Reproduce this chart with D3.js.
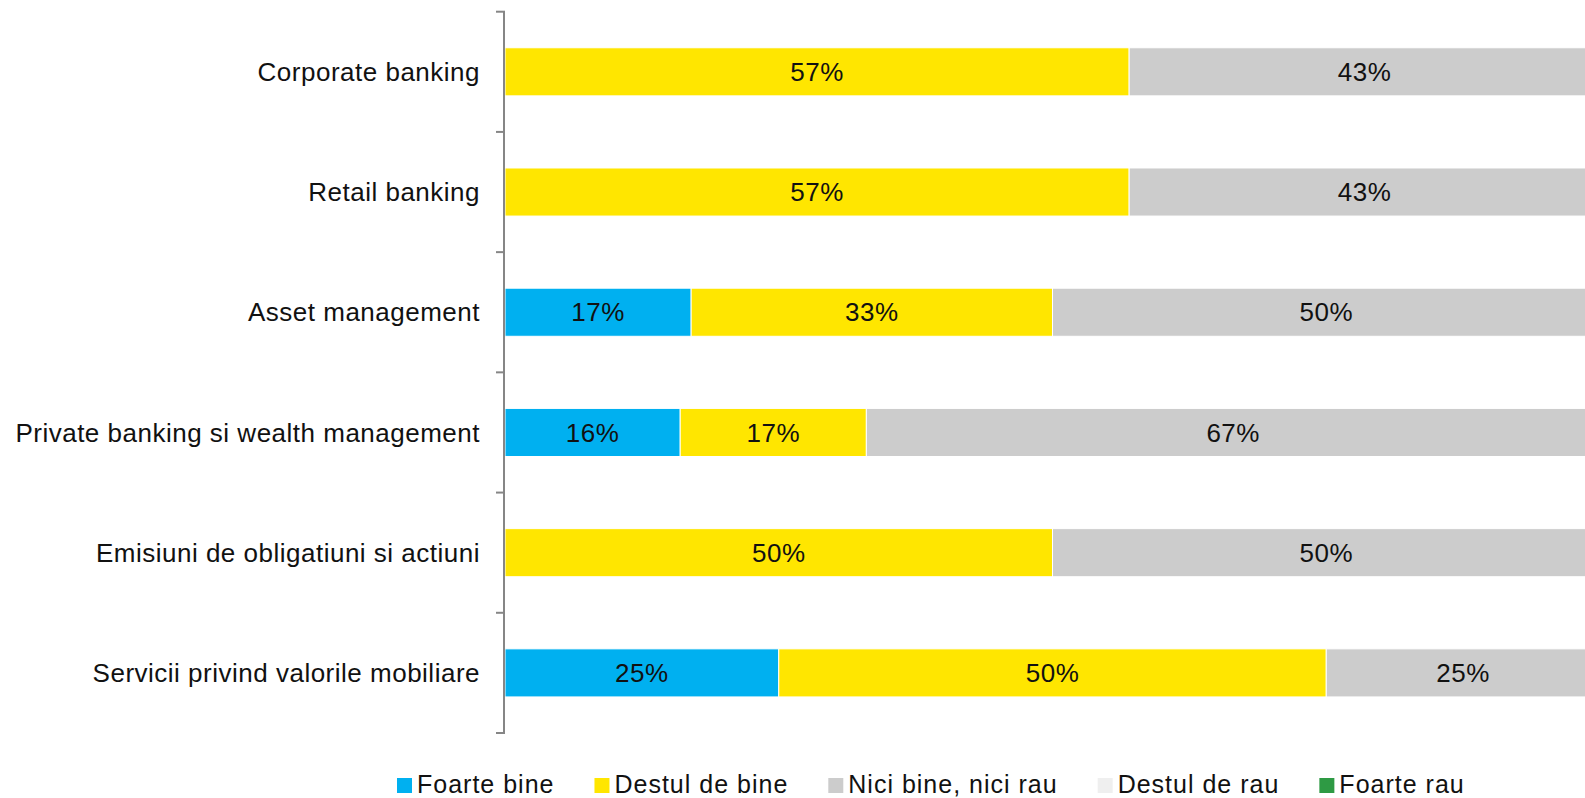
<!DOCTYPE html>
<html>
<head>
<meta charset="utf-8">
<script src="https://cdn.jsdelivr.net/npm/d3@7"></script>
<style>
  html, body { margin: 0; padding: 0; background: #fff; }
  svg { display: block; }
  text { font-family: "Liberation Sans", Arial, sans-serif; fill: #111; }
</style>
</head>
<body>
<svg id="chart" width="1585" height="798"></svg>
<script>
const categories = [
  "Corporate banking",
  "Retail banking",
  "Asset management",
  "Private banking si wealth management",
  "Emisiuni de obligatiuni si actiuni",
  "Servicii privind valorile mobiliare"
];
const seriesNames = ["Foarte bine", "Destul de bine", "Nici bine, nici rau", "Destul de rau", "Foarte rau"];
const seriesColors = ["#00B0F0", "#FFE600", "#CCCCCC", "#EFEFEF", "#2E9A44"];
const foarteBine   = [0, 0, 17, 16, 0, 25];
const destulDeBine = [57, 57, 33, 17, 50, 50];
const niciBine     = [43, 43, 50, 67, 50, 25];
const destulDeRau  = [0, 0, 0, 0, 0, 0];
const foarteRau    = [0, 0, 0, 0, 0, 0];
const seriesValues = [foarteBine, destulDeBine, niciBine, destulDeRau, foarteRau];

const svg = d3.select("#chart");

const x = d3.scaleLinear().domain([0, 100]).range([505, 1600]);
const y = d3.scaleBand().domain(categories).range([11.7, 733])
  .paddingInner(0.6).paddingOuter(0.3);

const rows = categories.map((c, i) => {
  const r = { category: c };
  seriesNames.forEach((s, j) => r[s] = seriesValues[j][i]);
  return r;
});
const stacked = d3.stack().keys(seriesNames)(rows);

const g = svg.append("g");
stacked.forEach((layer, j) => {
  const lg = g.append("g");
  layer.forEach(d => {
    const v = d[1] - d[0];
    if (v <= 0) return;
    lg.append("rect")
      .attr("x", x(d[0]))
      .attr("y", y(d.data.category))
      .attr("width", x(d[1]) - x(d[0]))
      .attr("height", y.bandwidth())
      .attr("fill", seriesColors[j])
      .attr("stroke", "#fff")
      .attr("stroke-width", 1);
    lg.append("text")
      .attr("x", (x(d[0]) + x(d[1])) / 2)
      .attr("y", y(d.data.category) + y.bandwidth() / 2)
      .attr("dy", "0.35em")
      .attr("text-anchor", "middle")
      .style("font-size", "26px")
      .style("letter-spacing", "0.5px")
      .text(v + "%");
  });
});

// axis
const axisX = 504;
const [r0, r1] = y.range();
svg.append("line")
  .attr("x1", axisX).attr("x2", axisX)
  .attr("y1", r0).attr("y2", r1)
  .attr("stroke", "#868686").attr("stroke-width", 2);
for (let k = 0; k <= categories.length; k++) {
  const ty = r0 + k * y.step();
  svg.append("line")
    .attr("x1", axisX - 8).attr("x2", axisX + 1)
    .attr("y1", ty).attr("y2", ty)
    .attr("stroke", "#868686").attr("stroke-width", 2);
}
categories.forEach(c => {
  svg.append("text")
    .attr("x", 480)
    .attr("y", y(c) + y.bandwidth() / 2)
    .attr("dy", "0.35em")
    .attr("text-anchor", "end")
    .style("font-size", "26px")
    .style("letter-spacing", "0.5px")
    .text(c);
});

// legend
const legend = svg.append("g");
let lx = 397;
seriesNames.forEach((s, j) => {
  legend.append("rect")
    .attr("x", lx).attr("y", 778)
    .attr("width", 15).attr("height", 15)
    .attr("fill", seriesColors[j]);
  const t = legend.append("text")
    .attr("x", lx + 20).attr("y", 793)
    .style("font-size", "25px")
    .style("letter-spacing", "1px")
    .text(s);
  const w = t.node().getComputedTextLength();
  lx += 20 + w + 40;
});
</script>
</body>
</html>
